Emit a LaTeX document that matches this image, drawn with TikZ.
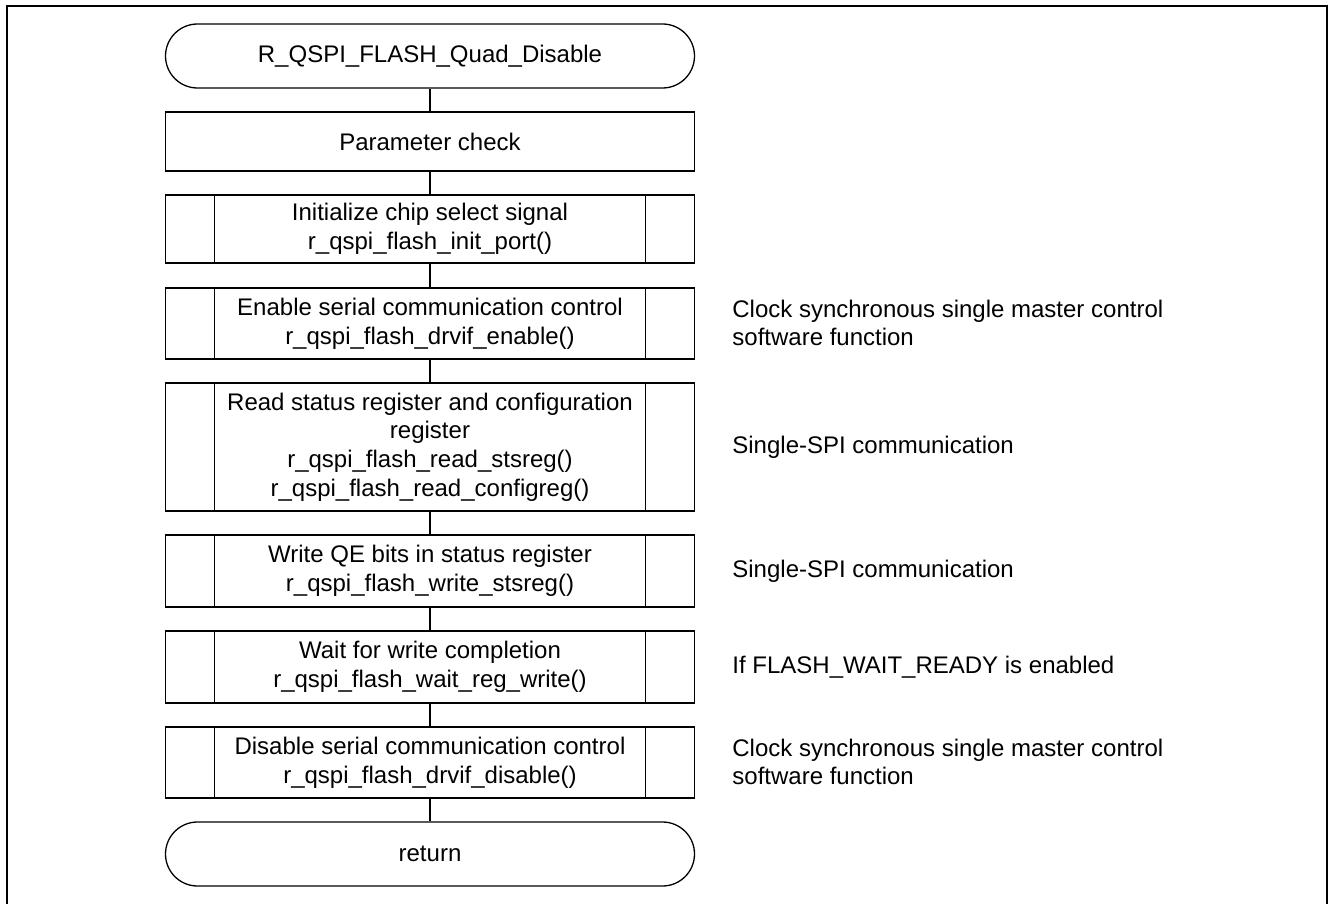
\documentclass[tikz,border=0pt]{standalone}
\usepackage{fontspec}
\setmainfont{Liberation Sans}
\usepackage{tikz}
\usetikzlibrary{positioning, calc}

\tikzset{
  flow/.style={draw, line width=0.65pt, minimum width=264.5pt, inner sep=0pt,
    align=center, font=\fontsize{12pt}{14.4pt}\selectfont},
  terminal/.style={flow, rounded corners=16pt, minimum height=32pt},
  process/.style={flow},
  subroutine/.style={flow, path picture={
      \draw[line width=0.65pt] ([xshift=24.5pt]path picture bounding box.north west)
        -- ([xshift=24.5pt]path picture bounding box.south west);
      \draw[line width=0.65pt] ([xshift=-24.5pt]path picture bounding box.north east)
        -- ([xshift=-24.5pt]path picture bounding box.south east);}},
  note/.style={anchor=west, align=left, inner sep=0pt,
    font=\fontsize{12pt}{14.4pt}\selectfont},
  link/.style={line width=0.65pt}
}

\begin{document}
\begin{tikzpicture}[x=0.5pt, y=-0.5pt]
  \useasboundingbox (0,0) rectangle (1328,904);
  % frame
  \draw[line width=1pt] (6.5,906) |- (1327,6.5) -- (1327,906);

  % flow
  \node[terminal] (start) at (430,56) {R\_QSPI\_FLASH\_Quad\_Disable};
  \node[process, minimum height=29.5pt] (check) at (430,141.5) {Parameter check};
  \node[subroutine, minimum height=34pt] (initport) at (430,229)
    {Initialize chip select signal\\r\_qspi\_flash\_init\_port()};
  \node[subroutine, minimum height=35.5pt] (drvon) at (430,323.5)
    {Enable serial communication control\\r\_qspi\_flash\_drvif\_enable()};
  \node[subroutine, minimum height=64pt] (readreg) at (430,447)
    {Read status register and configuration\\register\\r\_qspi\_flash\_read\_stsreg()\\r\_qspi\_flash\_read\_configreg()};
  \node[subroutine, minimum height=36pt] (writereg) at (430,571)
    {Write QE bits in status register\\r\_qspi\_flash\_write\_stsreg()};
  \node[subroutine, minimum height=36pt] (waitreg) at (430,667)
    {Wait for write completion\\r\_qspi\_flash\_wait\_reg\_write()};
  \node[subroutine, minimum height=35.5pt] (drvoff) at (430,762.5)
    {Disable serial communication control\\r\_qspi\_flash\_drvif\_disable()};
  \node[terminal] (ret) at (430,854) {return};

  % connectors
  \foreach \a/\b in {start/check, check/initport, initport/drvon, drvon/readreg,
      readreg/writereg, writereg/waitreg, waitreg/drvoff, drvoff/ret}
    \draw[link] (\a) -- (\b);

  % notes
  \node[note] (drvonnote) at (732,323) {Clock synchronous single master control\\software function};
  \node[note] (readnote) at (732,447) {Single-SPI communication};
  \node[note] (writenote) at (732,571) {Single-SPI communication};
  \node[note] (waitnote) at (732,667) {If FLASH\_WAIT\_READY is enabled};
  \node[note] (drvoffnote) at (732,762) {Clock synchronous single master control\\software function};
\end{tikzpicture}
\end{document}
